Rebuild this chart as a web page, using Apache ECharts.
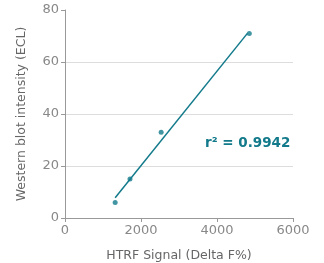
<!DOCTYPE html>
<html><head><meta charset="utf-8">
<script src="https://cdn.jsdelivr.net/npm/echarts@6/dist/echarts.min.js"></script>
<style>html,body{margin:0;padding:0;background:#fff}#c{width:324px;height:263px}</style>
</head><body><div id="c"></div>
<script>
const pointsX = [1320, 1710, 2530, 4850];
const pointsY = [6, 15, 33, 71];
const fitX = [1320, 4800];
const fitY = [7.8, 71];
const xTicks = [0, 2000, 4000, 6000];
const yTicks = [0, 20, 40, 60, 80];
const rLabel = 'r² = 0.9942';

const teal = '#137a8b';
const font = '"DejaVu Sans", sans-serif';
const chart = echarts.init(document.getElementById('c'), null, {renderer: 'canvas'});
chart.setOption({
  animation: false,
  grid: {left: 65, right: 31, top: 10, bottom: 45, containLabel: false, outerBoundsMode: 'none'},
  xAxis: {
    type: 'value', min: xTicks[0], max: xTicks[xTicks.length-1], interval: 2000,
    name: 'HTRF Signal (Delta F%)', nameLocation: 'middle', nameGap: 31,
    nameTextStyle: {color: '#666', fontSize: 12.5, fontFamily: font},
    axisLine: {show: true, lineStyle: {color: '#999', width: 1}},
    axisTick: {show: true, length: 4, lineStyle: {color: '#999'}},
    axisLabel: {color: '#888', fontSize: 13, fontFamily: font, margin: 6, formatter: v => String(v)},
    splitLine: {show: false}
  },
  yAxis: {
    type: 'value', min: yTicks[0], max: yTicks[yTicks.length-1], interval: 20,
    name: 'Western blot intensity (ECL)', nameLocation: 'middle', nameGap: 37,
    nameTextStyle: {color: '#666', fontSize: 12.5, fontFamily: font},
    axisLine: {show: true, lineStyle: {color: '#999', width: 1}},
    axisTick: {show: true, length: 4, lineStyle: {color: '#999'}},
    axisLabel: {color: '#888', fontSize: 13, fontFamily: font, margin: 6, formatter: v => String(v)},
    splitLine: {show: true, lineStyle: {color: ['#ddd','#ddd','#ddd','#ddd','rgba(0,0,0,0)'], width: 1}}
  },
  series: [
    {type: 'line', data: fitX.map((x,i)=>[x, fitY[i]]), showSymbol: false, symbol: 'none',
     lineStyle: {color: teal, width: 1.5}},
    {type: 'scatter', data: pointsX.map((x,i)=>[x, pointsY[i]]), symbolSize: 5,
     itemStyle: {color: teal}}
  ],
  graphic: [{
    type: 'text', left: 205, top: 136,
    style: {text: rLabel, fill: teal, font: 'bold 13.5px ' + font}
  }]
});
</script></body></html>
